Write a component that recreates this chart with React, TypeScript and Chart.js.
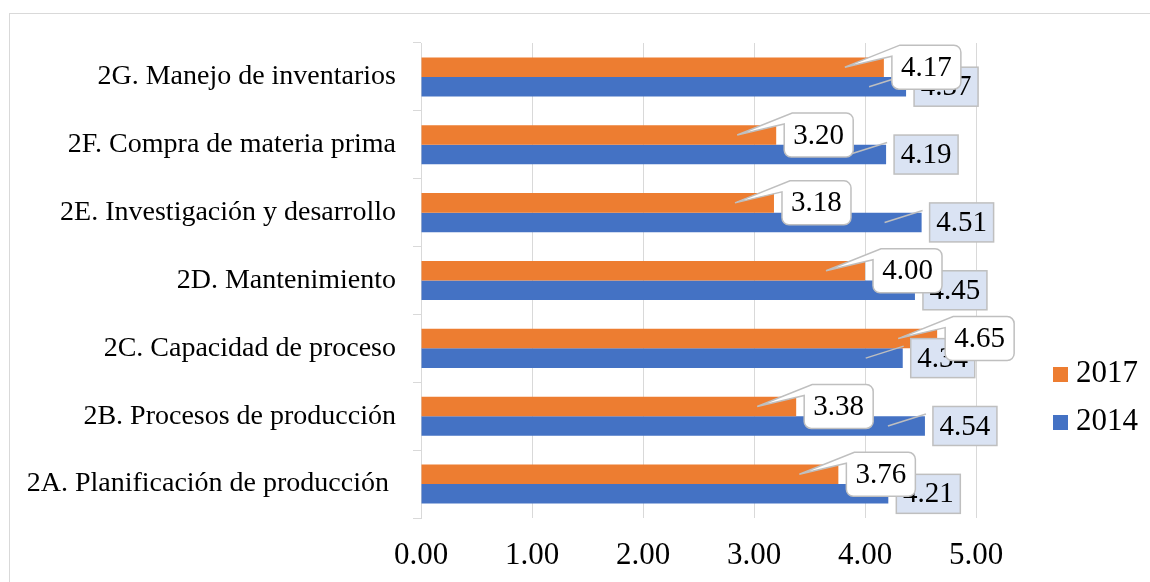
import React, { useEffect, useRef } from "react";
import { Chart, registerables } from "chart.js";

Chart.register(...registerables);

const categories = [
  "2G. Manejo de inventarios",
  "2F. Compra de materia prima",
  "2E. Investigación y desarrollo",
  "2D. Mantenimiento",
  "2C. Capacidad de proceso",
  "2B. Procesos de producción",
  "2A. Planificación de producción ",
];
const values2017 = [4.17, 3.2, 3.18, 4.0, 4.65, 3.38, 3.76];
const values2014 = [4.37, 4.19, 4.51, 4.45, 4.34, 4.54, 4.21];
const seriesNames = ["2017", "2014"];
const seriesColors = ["#ED7D31", "#4472C4"];
const xMin = 0;
const xMax = 5;
const xStep = 1;

const FONT = '"Liberation Serif", "Times New Roman", serif';

const labelPlugin = {
  id: "calloutLabels",
  afterDatasetsDraw(chart: any) {
    const ctx = chart.ctx;
    ctx.save();
    ctx.font = `29px ${FONT}`;
    ctx.textAlign = "center";
    ctx.textBaseline = "middle";
    ctx.lineWidth = 1.5;
    // 2014 labels (square boxes)
    const m1 = chart.getDatasetMeta(1);
    m1.data.forEach((bar: any, i: number) => {
      const x = bar.x;
      const y = bar.y;
      ctx.strokeStyle = "#BFBFBF";
      ctx.beginPath();
      ctx.moveTo(x - 37, y);
      ctx.lineTo(x + 1, y - 12);
      ctx.stroke();
      const bw = 64, bh = 39;
      const bx = x + 8, by = y - bh / 2;
      ctx.fillStyle = "#DAE3F3";
      ctx.fillRect(bx, by, bw, bh);
      ctx.strokeRect(bx, by, bw, bh);
      ctx.fillStyle = "#000";
      ctx.fillText(values2014[i].toFixed(2), bx + bw / 2, y + 1);
    });
    // 2017 labels (rounded callouts)
    const m0 = chart.getDatasetMeta(0);
    m0.data.forEach((bar: any, i: number) => {
      const x = bar.x;
      const y = bar.y;
      const bw = 69, bh = 44, r = 7;
      const bx = x + 8, by = y - bh / 2;
      const tx = x - 39, ty = y;
      ctx.beginPath();
      ctx.moveTo(bx + 8, by);
      ctx.lineTo(bx + bw - r, by);
      ctx.arcTo(bx + bw, by, bx + bw, by + r, r);
      ctx.lineTo(bx + bw, by + bh - r);
      ctx.arcTo(bx + bw, by + bh, bx + bw - r, by + bh, r);
      ctx.lineTo(bx + r, by + bh);
      ctx.arcTo(bx, by + bh, bx, by + bh - r, r);
      ctx.lineTo(bx, by + 11);
      ctx.lineTo(tx, ty);
      ctx.closePath();
      ctx.fillStyle = "#FFFFFF";
      ctx.fill();
      ctx.strokeStyle = "#BFBFBF";
      ctx.stroke();
      ctx.fillStyle = "#000";
      ctx.fillText(values2017[i].toFixed(2), bx + bw / 2, y + 1);
    });
    ctx.restore();
  },
};

const legendPlugin = {
  id: "customLegend",
  afterDraw(chart: any) {
    const ctx = chart.ctx;
    ctx.save();
    ctx.font = `31px ${FONT}`;
    ctx.textAlign = "left";
    ctx.textBaseline = "middle";
    const ys = [374.5, 422.5];
    seriesNames.forEach((name, i) => {
      ctx.fillStyle = seriesColors[i];
      ctx.fillRect(1053, ys[i] - 7.5, 15, 15);
      ctx.fillStyle = "#000";
      ctx.fillText(name, 1076, ys[i] - 1);
    });
    ctx.restore();
  },
};

export default function App() {
  const ref = useRef<HTMLCanvasElement>(null);
  useEffect(() => {
    if (!ref.current) return;
    const chart = new Chart(ref.current, {
      type: "bar",
      data: {
        labels: categories,
        datasets: [
          {
            label: seriesNames[0],
            data: values2017,
            backgroundColor: seriesColors[0],
            categoryPercentage: 0.576,
            barPercentage: 1,
          },
          {
            label: seriesNames[1],
            data: values2014,
            backgroundColor: seriesColors[1],
            categoryPercentage: 0.576,
            barPercentage: 1,
          },
        ],
      },
      options: {
        indexAxis: "y",
        animation: false,
        responsive: false,
        maintainAspectRatio: false,
        layout: { padding: { left: 0, right: 174, top: 43, bottom: 0 } },
        plugins: {
          legend: { display: false },
          tooltip: { enabled: false },
        },
        scales: {
          x: {
            min: xMin,
            max: xMax,
            ticks: {
              stepSize: xStep,
              callback: (v: any) => Number(v).toFixed(2),
              font: { family: FONT, size: 31 },
              color: "#000",
              padding: 19,
            },
            grid: { color: "#D9D9D9", drawTicks: false, lineWidth: 1 },
            border: { display: false },
            afterFit: (s: any) => {
              s.height = 64;
            },
          },
          y: {
            ticks: {
              font: { family: FONT, size: 28 },
              color: "#000",
              padding: 17,
              autoSkip: false,
            },
            grid: {
              drawOnChartArea: false,
              drawTicks: true,
              tickLength: 8,
              color: "#D9D9D9",
              offset: true,
            },
            border: { display: true, color: "#D9D9D9" },
            afterFit: (s: any) => {
              s.width = 421;
            },
          },
        },
      },
      plugins: [labelPlugin, legendPlugin],
    } as any);
    return () => chart.destroy();
  }, []);

  return (
    <div
      style={{
        position: "fixed",
        left: 0,
        top: 0,
        width: 1150,
        height: 582,
        overflow: "hidden",
        background: "#fff",
      }}
    >
      <div
        style={{
          position: "absolute",
          left: 9,
          top: 13,
          width: 1300,
          height: 800,
          border: "1px solid #D9D9D9",
          boxSizing: "border-box",
        }}
      />
      <canvas
        ref={ref}
        width={1150}
        height={582}
        style={{ position: "absolute", left: 0, top: 0, width: 1150, height: 582 }}
      />
    </div>
  );
}
